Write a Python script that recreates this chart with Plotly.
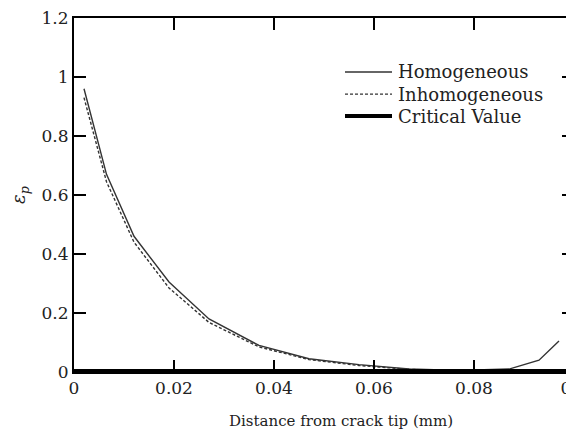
import plotly.graph_objects as go

x_hom = [0.002, 0.0065, 0.012, 0.019, 0.027, 0.037, 0.047, 0.057, 0.067, 0.077, 0.087, 0.093, 0.097]
y_hom = [0.96, 0.67, 0.46, 0.305, 0.18, 0.09, 0.045, 0.025, 0.01, 0.005, 0.01, 0.04, 0.105]

x_inh = [0.002, 0.0065, 0.012, 0.019, 0.027, 0.037, 0.047, 0.057, 0.067, 0.077, 0.087]
y_inh = [0.93, 0.645, 0.44, 0.285, 0.168, 0.085, 0.042, 0.022, 0.009, 0.004, 0.008]

x_crit = [0.0, 0.1]
y_crit = [0.0, 0.0]

series_names = ["Homogeneous", "Inhomogeneous", "Critical Value"]
x_ticks = [0, 0.02, 0.04, 0.06, 0.08, 0.1]
x_ticktext = ["0", "0.02", "0.04", "0.06", "0.08", "0.1"]
y_ticks = [0, 0.2, 0.4, 0.6, 0.8, 1, 1.2]
y_ticktext = ["0", "0.2", "0.4", "0.6", "0.8", "1", "1.2"]

serif = "DejaVu Serif, Liberation Serif, serif"
styles = [dict(color="#333333", width=1.4),
          dict(color="#333333", width=1.4, dash="3px,2px"),
          dict(color="black", width=6)]

fig = go.Figure()
for xs, ys, name, st in zip([x_hom, x_inh, x_crit], [y_hom, y_inh, y_crit], series_names, styles):
    fig.add_trace(go.Scatter(x=xs, y=ys, mode="lines", name=name, line=st, showlegend=False))

axis_common = dict(showgrid=False, zeroline=False, showline=True, linecolor="black",
                   linewidth=2, ticks="inside", ticklen=12, tickwidth=2, tickcolor="black",
                   mirror="allticks", automargin=False, ticklabeloverflow="allow",
                   tickfont=dict(family=serif, size=17, color="#222"))

# legend drawn manually to match the tight spacing
shapes = []
annotations = []
row_y = [0.8475, 0.785, 0.723]
legend_line_styles = [dict(color="#333333", width=1.6),
                      dict(color="#333333", width=1.4, dash="3px,2px"),
                      dict(color="black", width=4)]
for name, yy, ls in zip(series_names, row_y, legend_line_styles):
    shapes.append(dict(type="line", xref="paper", yref="paper", x0=0.542, x1=0.636,
                       y0=yy, y1=yy, line=ls))
    annotations.append(dict(text=name, xref="paper", yref="paper", x=0.644, y=yy,
                            xanchor="left", yanchor="middle", showarrow=False,
                            font=dict(family=serif, size=18, color="#222")))

annotations.append(dict(text="Distance from crack tip (mm)", xref="paper", yref="paper",
                        x=0.534, y=-0.138, xanchor="center", yanchor="middle", showarrow=False,
                        font=dict(family=serif, size=15, color="#222")))

fig.update_layout(
    width=566, height=431,
    margin=dict(l=66, r=0, t=10, b=67),
    paper_bgcolor="white", plot_bgcolor="white",
    font=dict(family=serif, color="#222"),
    xaxis=dict(range=[0, 0.1], tickvals=x_ticks, ticktext=x_ticktext, **axis_common),
    yaxis=dict(range=[0, 1.2], tickvals=y_ticks, ticktext=y_ticktext,
               title=dict(text="<i>ε<sub>p</sub></i>", font=dict(family=serif, size=18), standoff=18),
               **axis_common),
    shapes=shapes,
    annotations=annotations,
    showlegend=False,
)

fig.write_html("out.html")
